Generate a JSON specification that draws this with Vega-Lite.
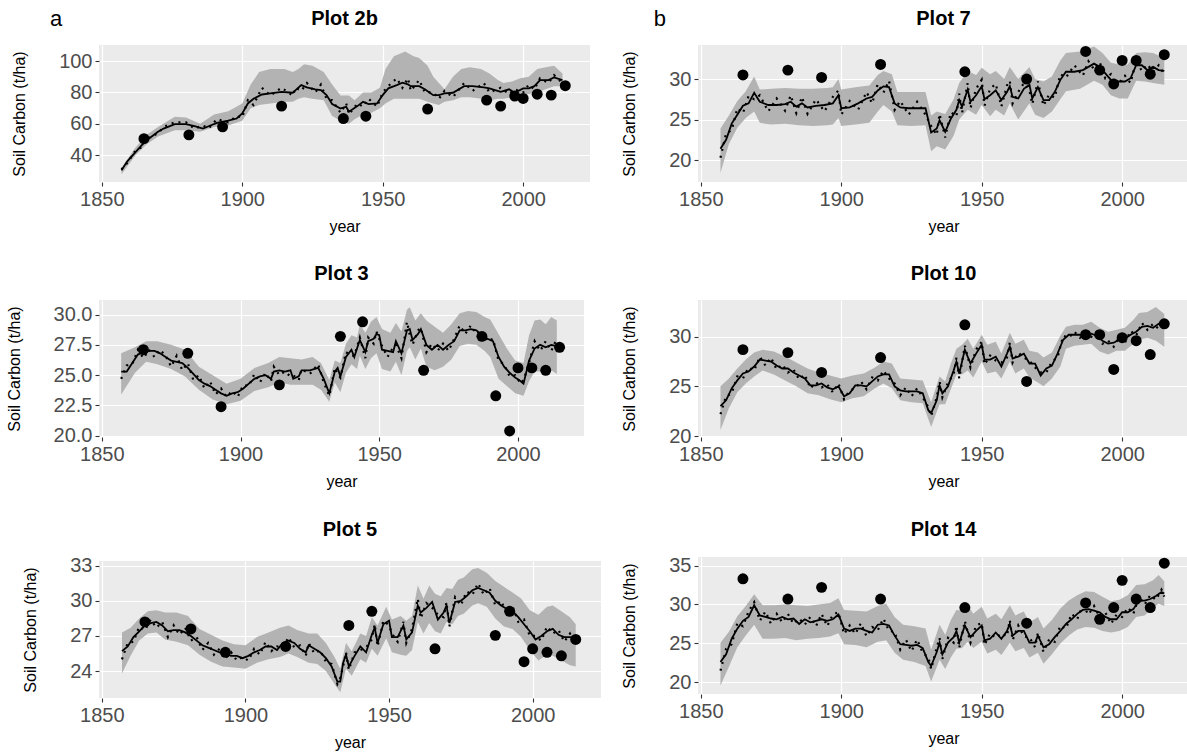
{
"$schema": "https://vega.github.io/schema/vega-lite/v6.json",
"padding": {"left": 6, "top": 8, "right": 4, "bottom": 2},
"background": "white",
"config": {
 "view": {"fill": "#EBEBEB", "stroke": null},
 "font": "Liberation Sans",
 "axis": {"domain": false, "labelOverlap": false, "gridColor": "white", "gridWidth": 1.2, "tickColor": "#333333", "tickSize": 4, "tickWidth": 1.1, "labelColor": "#4D4D4D", "labelFontSize": 20, "labelPadding": 3, "titleFontSize": 16, "titleFontWeight": "normal", "titleColor": "black"},
 "axisX": {"titlePadding": 9},
 "axisY": {"titlePadding": 31},
 "title": {"fontSize": 20, "fontWeight": "bold", "color": "black", "anchor": "middle", "offset": 16}
},
"datasets": {
 "l2b": [{"year":1857,"m":30.4,"d":31},{"year":1859,"m":36,"d":35},{"year":1862,"m":42,"d":43},{"year":1864,"m":46,"d":45},{"year":1866,"m":49.6,"d":50.5},{"year":1870,"m":55,"d":54},{"year":1872,"m":57,"d":58},{"year":1876,"m":59.8,"d":61},{"year":1880,"m":59.8,"d":61},{"year":1883,"m":58.5,"d":57},{"year":1886,"m":57,"d":59},{"year":1888,"m":58.5,"d":57},{"year":1891,"m":60.6,"d":63},{"year":1895,"m":62,"d":61},{"year":1898,"m":63.4,"d":65},{"year":1900,"m":66.6,"d":64},{"year":1902,"m":73,"d":75},{"year":1904,"m":76,"d":72},{"year":1907,"m":78.7,"d":83},{"year":1910,"m":79.4,"d":78},{"year":1914,"m":80.4,"d":83},{"year":1918,"m":79.8,"d":78},{"year":1919,"m":81.5,"d":83},{"year":1921,"m":84.7,"d":81},{"year":1923,"m":83.2,"d":86},{"year":1926,"m":82,"d":80},{"year":1928,"m":81.5,"d":85},{"year":1930,"m":78.3,"d":76},{"year":1932,"m":72.6,"d":75},{"year":1935,"m":69.8,"d":67},{"year":1937,"m":70.9,"d":73},{"year":1938,"m":67.7,"d":66},{"year":1941,"m":71.3,"d":73},{"year":1943,"m":74,"d":71},{"year":1945,"m":72.6,"d":76},{"year":1948,"m":73,"d":71},{"year":1950,"m":78.3,"d":80},{"year":1952,"m":82.6,"d":84},{"year":1955,"m":84.7,"d":89},{"year":1957,"m":86.2,"d":83},{"year":1959,"m":85.1,"d":89},{"year":1960,"m":84,"d":81},{"year":1963,"m":84,"d":88},{"year":1965,"m":82,"d":80},{"year":1968,"m":78.3,"d":80},{"year":1970,"m":78.3,"d":76},{"year":1972,"m":79.4,"d":81},{"year":1975,"m":79.8,"d":77},{"year":1979,"m":84,"d":86},{"year":1982,"m":84,"d":81},{"year":1986,"m":83.2,"d":86},{"year":1988,"m":82.6,"d":80},{"year":1992,"m":80.4,"d":83},{"year":1995,"m":82,"d":79},{"year":1997,"m":79.8,"d":82},{"year":2000,"m":82.6,"d":80},{"year":2002,"m":82.6,"d":85},{"year":2004,"m":84,"d":82},{"year":2006,"m":87.9,"d":89},{"year":2009,"m":87.9,"d":86},{"year":2011,"m":89.6,"d":91},{"year":2014,"m":87.9,"d":86}],
 "b2b": [{"year":1857,"lo":28,"hi":32},{"year":1862,"lo":40,"hi":45},{"year":1866,"lo":47,"hi":53},{"year":1870,"lo":52,"hi":58},{"year":1876,"lo":56,"hi":64.5},{"year":1880,"lo":56,"hi":64},{"year":1885,"lo":55,"hi":60},{"year":1890,"lo":58,"hi":66},{"year":1895,"lo":59,"hi":68},{"year":1900,"lo":62,"hi":73},{"year":1903,"lo":70,"hi":85},{"year":1906,"lo":72,"hi":93},{"year":1910,"lo":73,"hi":95},{"year":1915,"lo":74,"hi":95},{"year":1918,"lo":74,"hi":93},{"year":1920,"lo":76,"hi":95},{"year":1922,"lo":77,"hi":98},{"year":1925,"lo":76,"hi":97},{"year":1929,"lo":75,"hi":93},{"year":1932,"lo":65,"hi":85},{"year":1935,"lo":62,"hi":78},{"year":1938,"lo":60,"hi":78},{"year":1940,"lo":63,"hi":75},{"year":1943,"lo":66,"hi":80},{"year":1946,"lo":67,"hi":80},{"year":1949,"lo":70,"hi":83},{"year":1951,"lo":73,"hi":95},{"year":1954,"lo":76,"hi":103},{"year":1958,"lo":76,"hi":106},{"year":1961,"lo":76,"hi":103},{"year":1963,"lo":76,"hi":102},{"year":1966,"lo":74,"hi":97},{"year":1968,"lo":73,"hi":90},{"year":1970,"lo":72,"hi":86},{"year":1972,"lo":74,"hi":82},{"year":1975,"lo":75,"hi":90},{"year":1978,"lo":77,"hi":95},{"year":1981,"lo":77,"hi":96},{"year":1985,"lo":76,"hi":95},{"year":1988,"lo":75,"hi":92},{"year":1991,"lo":76,"hi":88},{"year":1993,"lo":76,"hi":86},{"year":1996,"lo":77,"hi":87},{"year":1999,"lo":78,"hi":89},{"year":2002,"lo":79,"hi":90},{"year":2005,"lo":80,"hi":95},{"year":2008,"lo":82,"hi":96},{"year":2011,"lo":84,"hi":97},{"year":2014,"lo":84,"hi":92}],
 "o2b": [{"year":1865,"v":50.6},{"year":1881,"v":53},{"year":1893,"v":58.1},{"year":1914,"v":71.3},{"year":1936,"v":63.4},{"year":1944,"v":64.9},{"year":1966,"v":69.4},{"year":1987,"v":75.1},{"year":1992,"v":71.3},{"year":1997,"v":77.7},{"year":2000,"v":76.2},{"year":2005,"v":78.9},{"year":2010,"v":78.3},{"year":2015,"v":84.3}],
 "l7": [{"year":1857,"m":21.4,"d":20.3},{"year":1859,"m":22.5,"d":23.3},{"year":1861,"m":24.5,"d":23.7},{"year":1863,"m":25.6,"d":26.4},{"year":1865,"m":26.7,"d":25.8},{"year":1867,"m":27.0,"d":27.9},{"year":1869,"m":28.3,"d":27.5},{"year":1871,"m":27.2,"d":28.0},{"year":1874,"m":26.8,"d":26.0},{"year":1877,"m":26.8,"d":27.6},{"year":1880,"m":26.9,"d":26.1},{"year":1882,"m":27.2,"d":28.0},{"year":1884,"m":26.6,"d":25.8},{"year":1886,"m":27.0,"d":27.8},{"year":1888,"m":26.5,"d":25.7},{"year":1891,"m":26.7,"d":27.5},{"year":1894,"m":26.8,"d":26.0},{"year":1897,"m":27.0,"d":27.8},{"year":1899,"m":28.0,"d":28.6},{"year":1900,"m":26.4,"d":25.6},{"year":1903,"m":26.5,"d":27.3},{"year":1906,"m":27.0,"d":26.2},{"year":1909,"m":27.6,"d":28.4},{"year":1911,"m":27.8,"d":27.0},{"year":1913,"m":28.6,"d":29.4},{"year":1915,"m":29.1,"d":28.3},{"year":1917,"m":29.0,"d":29.8},{"year":1919,"m":27.0,"d":26.2},{"year":1921,"m":26.5,"d":27.3},{"year":1924,"m":26.4,"d":25.6},{"year":1927,"m":26.4,"d":27.2},{"year":1930,"m":26.4,"d":25.6},{"year":1932,"m":23.4,"d":24.2},{"year":1934,"m":23.9,"d":23.1},{"year":1935,"m":24.9,"d":25.7},{"year":1937,"m":23.5,"d":22.8},{"year":1939,"m":25.1,"d":25.9},{"year":1941,"m":26.2,"d":25.4},{"year":1942,"m":27.4,"d":28.2},{"year":1943,"m":26.6,"d":25.8},{"year":1945,"m":28.7,"d":29.5},{"year":1946,"m":27.2,"d":26.4},{"year":1948,"m":28.0,"d":28.8},{"year":1950,"m":29.1,"d":29.9},{"year":1951,"m":27.5,"d":26.7},{"year":1953,"m":28.0,"d":28.8},{"year":1955,"m":28.6,"d":29.4},{"year":1957,"m":27.4,"d":26.6},{"year":1959,"m":28.4,"d":29.2},{"year":1960,"m":29.1,"d":29.8},{"year":1961,"m":27.8,"d":27.0},{"year":1963,"m":27.6,"d":28.4},{"year":1965,"m":28.8,"d":29.5},{"year":1967,"m":29.3,"d":28.6},{"year":1968,"m":27.6,"d":26.9},{"year":1970,"m":29.0,"d":29.7},{"year":1972,"m":27.4,"d":26.7},{"year":1974,"m":27.4,"d":28.1},{"year":1976,"m":28.4,"d":27.7},{"year":1978,"m":29.9,"d":30.6},{"year":1980,"m":30.9,"d":30.2},{"year":1983,"m":30.9,"d":31.7},{"year":1986,"m":31.1,"d":30.4},{"year":1988,"m":31.5,"d":32.2},{"year":1990,"m":31.9,"d":31.2},{"year":1992,"m":31.5,"d":32.1},{"year":1994,"m":30.7,"d":30.1},{"year":1996,"m":29.9,"d":30.6},{"year":1998,"m":29.7,"d":29.1},{"year":2001,"m":29.7,"d":30.4},{"year":2003,"m":30.1,"d":29.5},{"year":2005,"m":31.7,"d":32.3},{"year":2007,"m":31.7,"d":31.0},{"year":2009,"m":31.1,"d":31.8},{"year":2011,"m":31.5,"d":30.9},{"year":2013,"m":31.1,"d":31.7},{"year":2015,"m":31.0,"d":30.6}],
 "b7": [{"year":1857,"lo":18.4,"hi":23.9},{"year":1860,"lo":22,"hi":25.5},{"year":1863,"lo":24,"hi":27.3},{"year":1866,"lo":25.2,"hi":28.5},{"year":1869,"lo":26,"hi":30.3},{"year":1871,"lo":24.6,"hi":28.7},{"year":1875,"lo":24.4,"hi":28.8},{"year":1880,"lo":24.5,"hi":28.9},{"year":1885,"lo":24.3,"hi":28.8},{"year":1890,"lo":24.2,"hi":28.8},{"year":1895,"lo":24.3,"hi":28.9},{"year":1897,"lo":24.4,"hi":29},{"year":1899,"lo":25.2,"hi":30},{"year":1900,"lo":24.2,"hi":28.7},{"year":1905,"lo":24.4,"hi":29},{"year":1910,"lo":24.6,"hi":29.2},{"year":1913,"lo":26,"hi":30.5},{"year":1915,"lo":26.8,"hi":31},{"year":1918,"lo":26,"hi":30.6},{"year":1920,"lo":24.3,"hi":28.4},{"year":1925,"lo":24.2,"hi":28.4},{"year":1930,"lo":24.3,"hi":28.4},{"year":1932,"lo":21.1,"hi":25.5},{"year":1934,"lo":21.7,"hi":26},{"year":1937,"lo":21.3,"hi":25.7},{"year":1940,"lo":23,"hi":27.5},{"year":1942,"lo":25,"hi":29.5},{"year":1945,"lo":26.2,"hi":31},{"year":1948,"lo":25.6,"hi":30.5},{"year":1950,"lo":26.8,"hi":31.4},{"year":1953,"lo":25.4,"hi":30.6},{"year":1955,"lo":26.2,"hi":31},{"year":1958,"lo":25.5,"hi":30},{"year":1960,"lo":27,"hi":31.5},{"year":1963,"lo":25,"hi":30},{"year":1967,"lo":27,"hi":31.5},{"year":1969,"lo":25.6,"hi":30},{"year":1972,"lo":25.2,"hi":29.7},{"year":1975,"lo":26,"hi":30.3},{"year":1978,"lo":27.5,"hi":32.3},{"year":1980,"lo":28.5,"hi":33.2},{"year":1985,"lo":28.8,"hi":33.4},{"year":1990,"lo":29.8,"hi":34},{"year":1993,"lo":29.3,"hi":33.2},{"year":1996,"lo":28,"hi":32},{"year":1999,"lo":27.6,"hi":31.8},{"year":2002,"lo":27.6,"hi":31.8},{"year":2005,"lo":29.8,"hi":33.2},{"year":2008,"lo":29.7,"hi":33.3},{"year":2011,"lo":29.5,"hi":33.2},{"year":2015,"lo":29.3,"hi":32.6}],
 "o7": [{"year":1865,"v":30.5},{"year":1881,"v":31.1},{"year":1893,"v":30.2},{"year":1914,"v":31.8},{"year":1944,"v":30.9},{"year":1966,"v":30.0},{"year":1987,"v":33.4},{"year":1992,"v":31.1},{"year":1997,"v":29.4},{"year":2000,"v":32.3},{"year":2005,"v":32.3},{"year":2010,"v":30.6},{"year":2015,"v":33.0}],
 "l3": [{"year":1857,"m":25.3,"d":24.7},{"year":1859,"m":25.3,"d":25.8},{"year":1861,"m":26.0,"d":25.9},{"year":1863,"m":26.7,"d":27.1},{"year":1865,"m":26.9,"d":26.4},{"year":1867,"m":27.0,"d":27.1},{"year":1869,"m":27.0,"d":26.5},{"year":1871,"m":26.8,"d":27.1},{"year":1873,"m":26.5,"d":26.6},{"year":1875,"m":26.2,"d":25.7},{"year":1877,"m":26.1,"d":26.6},{"year":1879,"m":26.0,"d":25.4},{"year":1881,"m":25.6,"d":26.0},{"year":1883,"m":25.1,"d":24.6},{"year":1885,"m":24.6,"d":25.0},{"year":1887,"m":24.3,"d":23.9},{"year":1889,"m":24.1,"d":24.5},{"year":1891,"m":23.8,"d":23.4},{"year":1893,"m":23.5,"d":23.9},{"year":1895,"m":23.3,"d":23.2},{"year":1897,"m":23.5,"d":23.7},{"year":1899,"m":23.6,"d":23.2},{"year":1901,"m":23.9,"d":24.2},{"year":1903,"m":24.3,"d":24.1},{"year":1905,"m":24.7,"d":25.1},{"year":1907,"m":24.9,"d":24.4},{"year":1909,"m":25.0,"d":25.2},{"year":1911,"m":24.7,"d":24.5},{"year":1912,"m":25.3,"d":25.7},{"year":1914,"m":25.4,"d":25.0},{"year":1916,"m":25.3,"d":25.3},{"year":1918,"m":25.4,"d":24.9},{"year":1919,"m":24.7,"d":25.0},{"year":1921,"m":24.9,"d":24.6},{"year":1922,"m":25.4,"d":25.5},{"year":1925,"m":25.4,"d":25.1},{"year":1928,"m":25.6,"d":25.9},{"year":1930,"m":24.7,"d":24.4},{"year":1932,"m":23.5,"d":23.3},{"year":1934,"m":25.3,"d":25.6},{"year":1935,"m":25.6,"d":25.1},{"year":1936,"m":24.9,"d":24.8},{"year":1938,"m":26.5,"d":26.9},{"year":1940,"m":27.1,"d":26.6},{"year":1941,"m":26.5,"d":26.6},{"year":1943,"m":27.9,"d":28.1},{"year":1945,"m":26.9,"d":26.4},{"year":1946,"m":27.8,"d":28.1},{"year":1948,"m":28.0,"d":27.6},{"year":1949,"m":28.4,"d":28.6},{"year":1950,"m":28.3,"d":28.0},{"year":1951,"m":27.1,"d":27.4},{"year":1953,"m":27.0,"d":26.5},{"year":1955,"m":26.9,"d":27.3},{"year":1956,"m":27.8,"d":27.5},{"year":1958,"m":26.8,"d":26.4},{"year":1960,"m":28.7,"d":29.4},{"year":1961,"m":28.8,"d":28.3},{"year":1962,"m":27.9,"d":27.5},{"year":1964,"m":28.4,"d":28.7},{"year":1965,"m":28.8,"d":28.9},{"year":1967,"m":27.5,"d":26.9},{"year":1969,"m":27.1,"d":27.6},{"year":1971,"m":27.5,"d":27.0},{"year":1973,"m":27.1,"d":27.6},{"year":1975,"m":27.5,"d":27.0},{"year":1977,"m":27.8,"d":28.0},{"year":1979,"m":28.7,"d":29.1},{"year":1981,"m":28.7,"d":28.4},{"year":1983,"m":28.8,"d":29.1},{"year":1985,"m":28.7,"d":28.4},{"year":1987,"m":28.3,"d":28.7},{"year":1989,"m":28.0,"d":27.8},{"year":1991,"m":27.8,"d":28.0},{"year":1993,"m":26.5,"d":26.2},{"year":1995,"m":25.7,"d":25.9},{"year":1997,"m":25.2,"d":24.9},{"year":1999,"m":24.8,"d":25.0},{"year":2001,"m":24.5,"d":24.3},{"year":2002,"m":24.3,"d":24.6},{"year":2004,"m":26.2,"d":26.0},{"year":2006,"m":27.2,"d":27.8},{"year":2008,"m":27.5,"d":27.0},{"year":2010,"m":27.3,"d":27.8},{"year":2012,"m":27.5,"d":27.0},{"year":2014,"m":27.4,"d":28.0}],
 "b3": [{"year":1857,"lo":23.4,"hi":26.8},{"year":1862,"lo":25.2,"hi":27.3},{"year":1866,"lo":26.1,"hi":27.8},{"year":1870,"lo":25.9,"hi":27.8},{"year":1875,"lo":25.5,"hi":27.5},{"year":1880,"lo":24.9,"hi":27.1},{"year":1885,"lo":23.8,"hi":25.7},{"year":1890,"lo":23.0,"hi":25.0},{"year":1895,"lo":22.6,"hi":24.3},{"year":1900,"lo":22.9,"hi":24.7},{"year":1905,"lo":23.7,"hi":25.6},{"year":1910,"lo":24.0,"hi":26.0},{"year":1914,"lo":24.4,"hi":26.5},{"year":1918,"lo":24.2,"hi":26.4},{"year":1922,"lo":24.2,"hi":26.3},{"year":1926,"lo":24.2,"hi":26.5},{"year":1929,"lo":23.8,"hi":26.0},{"year":1932,"lo":22.8,"hi":24.6},{"year":1934,"lo":24.4,"hi":26.2},{"year":1936,"lo":23.6,"hi":26.0},{"year":1938,"lo":25.2,"hi":27.6},{"year":1940,"lo":25.9,"hi":28.3},{"year":1942,"lo":25.5,"hi":28.1},{"year":1943,"lo":26.6,"hi":29.2},{"year":1945,"lo":25.5,"hi":28.5},{"year":1947,"lo":26.4,"hi":29.4},{"year":1949,"lo":26.8,"hi":29.8},{"year":1951,"lo":25.5,"hi":28.8},{"year":1954,"lo":25.3,"hi":28.5},{"year":1956,"lo":26.1,"hi":29.3},{"year":1958,"lo":25.0,"hi":28.6},{"year":1960,"lo":27.0,"hi":30.4},{"year":1961,"lo":27.3,"hi":30.6},{"year":1963,"lo":26.3,"hi":29.5},{"year":1965,"lo":27.2,"hi":30.1},{"year":1967,"lo":25.7,"hi":29.5},{"year":1970,"lo":25.4,"hi":29.0},{"year":1973,"lo":25.7,"hi":28.5},{"year":1976,"lo":26.3,"hi":29.2},{"year":1979,"lo":27.4,"hi":30.1},{"year":1982,"lo":27.6,"hi":30.3},{"year":1985,"lo":27.5,"hi":30.2},{"year":1988,"lo":27.0,"hi":29.8},{"year":1990,"lo":26.5,"hi":29.6},{"year":1993,"lo":24.7,"hi":28.4},{"year":1996,"lo":24.1,"hi":27.2},{"year":1999,"lo":23.5,"hi":26.2},{"year":2002,"lo":23.3,"hi":26.0},{"year":2004,"lo":24.5,"hi":28.3},{"year":2006,"lo":25.3,"hi":29.5},{"year":2008,"lo":25.3,"hi":29.6},{"year":2010,"lo":25.3,"hi":29.2},{"year":2012,"lo":25.4,"hi":29.8},{"year":2014,"lo":25.1,"hi":29.5}],
 "o3": [{"year":1865,"v":27.1},{"year":1881,"v":26.8},{"year":1893,"v":22.4},{"year":1914,"v":24.2},{"year":1936,"v":28.2},{"year":1944,"v":29.4},{"year":1966,"v":25.4},{"year":1987,"v":28.2},{"year":1992,"v":23.3},{"year":1997,"v":20.4},{"year":2000,"v":25.6},{"year":2005,"v":25.6},{"year":2010,"v":25.4},{"year":2015,"v":27.3}],
 "l10": [{"year":1857,"m":23.0,"d":22.2},{"year":1859,"m":23.6,"d":24.0},{"year":1861,"m":24.8,"d":24.3},{"year":1863,"m":25.6,"d":26.0},{"year":1865,"m":26.3,"d":25.8},{"year":1867,"m":26.5,"d":26.9},{"year":1869,"m":27.0,"d":26.6},{"year":1871,"m":27.7,"d":28.0},{"year":1873,"m":27.6,"d":27.1},{"year":1875,"m":27.5,"d":27.9},{"year":1877,"m":27.1,"d":26.7},{"year":1879,"m":26.8,"d":27.2},{"year":1881,"m":26.8,"d":26.4},{"year":1883,"m":26.4,"d":26.7},{"year":1885,"m":26.1,"d":25.7},{"year":1887,"m":25.8,"d":26.2},{"year":1889,"m":25.1,"d":24.8},{"year":1891,"m":25.1,"d":25.4},{"year":1893,"m":25.3,"d":24.9},{"year":1895,"m":24.9,"d":25.2},{"year":1897,"m":24.7,"d":24.4},{"year":1899,"m":25.0,"d":25.3},{"year":1901,"m":24.0,"d":23.7},{"year":1903,"m":24.3,"d":24.6},{"year":1905,"m":25.1,"d":24.8},{"year":1907,"m":25.1,"d":25.5},{"year":1909,"m":25.0,"d":24.7},{"year":1911,"m":25.5,"d":25.9},{"year":1913,"m":26.0,"d":25.6},{"year":1915,"m":26.2,"d":26.6},{"year":1917,"m":26.2,"d":25.8},{"year":1919,"m":25.0,"d":25.3},{"year":1921,"m":24.6,"d":24.1},{"year":1923,"m":24.5,"d":24.9},{"year":1925,"m":24.5,"d":24.0},{"year":1927,"m":24.5,"d":24.8},{"year":1929,"m":24.3,"d":23.9},{"year":1931,"m":22.6,"d":22.9},{"year":1932,"m":22.3,"d":22.0},{"year":1934,"m":23.6,"d":23.9},{"year":1935,"m":25.1,"d":25.5},{"year":1936,"m":24.3,"d":23.9},{"year":1938,"m":25.0,"d":25.4},{"year":1940,"m":26.6,"d":26.2},{"year":1941,"m":27.5,"d":27.9},{"year":1942,"m":26.3,"d":25.8},{"year":1944,"m":28.7,"d":29.1},{"year":1946,"m":27.3,"d":26.9},{"year":1948,"m":28.3,"d":28.7},{"year":1950,"m":29.2,"d":29.5},{"year":1951,"m":27.7,"d":27.2},{"year":1953,"m":27.7,"d":28.1},{"year":1955,"m":28.0,"d":27.6},{"year":1957,"m":27.0,"d":27.4},{"year":1959,"m":28.3,"d":27.9},{"year":1960,"m":29.0,"d":29.4},{"year":1961,"m":27.8,"d":27.4},{"year":1963,"m":28.0,"d":28.4},{"year":1965,"m":28.3,"d":27.9},{"year":1967,"m":27.3,"d":27.6},{"year":1969,"m":27.3,"d":26.9},{"year":1971,"m":26.1,"d":26.4},{"year":1973,"m":26.8,"d":26.4},{"year":1975,"m":27.1,"d":27.5},{"year":1977,"m":28.3,"d":27.9},{"year":1979,"m":29.7,"d":30.1},{"year":1981,"m":30.2,"d":29.9},{"year":1983,"m":30.2,"d":30.5},{"year":1985,"m":30.2,"d":29.9},{"year":1987,"m":30.0,"d":30.4},{"year":1989,"m":30.3,"d":30.0},{"year":1991,"m":30.1,"d":30.5},{"year":1993,"m":29.6,"d":29.3},{"year":1995,"m":29.3,"d":29.6},{"year":1997,"m":29.4,"d":29.0},{"year":1999,"m":29.7,"d":30.0},{"year":2001,"m":29.8,"d":29.4},{"year":2003,"m":30.2,"d":30.6},{"year":2005,"m":30.5,"d":30.1},{"year":2007,"m":31.0,"d":31.4},{"year":2009,"m":31.1,"d":30.7},{"year":2011,"m":30.9,"d":31.3},{"year":2013,"m":31.3,"d":30.8},{"year":2015,"m":30.9,"d":31.3}],
 "b10": [{"year":1857,"lo":20.6,"hi":25.0},{"year":1860,"lo":22.8,"hi":25.8},{"year":1863,"lo":24.4,"hi":26.8},{"year":1866,"lo":25.3,"hi":27.7},{"year":1869,"lo":26.0,"hi":28.4},{"year":1872,"lo":26.6,"hi":28.7},{"year":1876,"lo":26.2,"hi":28.5},{"year":1880,"lo":25.6,"hi":28.0},{"year":1884,"lo":25.0,"hi":27.4},{"year":1888,"lo":24.3,"hi":26.8},{"year":1892,"lo":24.1,"hi":26.4},{"year":1896,"lo":23.7,"hi":26.1},{"year":1900,"lo":23.4,"hi":25.8},{"year":1904,"lo":23.8,"hi":26.1},{"year":1908,"lo":24.0,"hi":26.3},{"year":1912,"lo":24.8,"hi":26.9},{"year":1915,"lo":25.3,"hi":27.5},{"year":1918,"lo":24.8,"hi":27.3},{"year":1921,"lo":23.6,"hi":25.8},{"year":1925,"lo":23.4,"hi":25.7},{"year":1929,"lo":23.3,"hi":25.6},{"year":1932,"lo":20.9,"hi":23.4},{"year":1935,"lo":23.2,"hi":26.0},{"year":1937,"lo":23.2,"hi":25.5},{"year":1939,"lo":24.7,"hi":27.3},{"year":1941,"lo":26.2,"hi":28.8},{"year":1943,"lo":26.2,"hi":29.2},{"year":1945,"lo":26.6,"hi":29.8},{"year":1947,"lo":25.9,"hi":28.8},{"year":1950,"lo":27.5,"hi":30.2},{"year":1952,"lo":26.3,"hi":29.2},{"year":1955,"lo":26.5,"hi":29.5},{"year":1957,"lo":25.8,"hi":28.3},{"year":1960,"lo":27.5,"hi":30.4},{"year":1962,"lo":26.3,"hi":29.3},{"year":1965,"lo":26.8,"hi":29.7},{"year":1967,"lo":25.9,"hi":28.6},{"year":1970,"lo":25.4,"hi":28.4},{"year":1972,"lo":25.0,"hi":27.9},{"year":1975,"lo":25.8,"hi":28.4},{"year":1978,"lo":27.0,"hi":30.1},{"year":1980,"lo":28.8,"hi":31.0},{"year":1983,"lo":29.1,"hi":31.2},{"year":1986,"lo":29.2,"hi":31.2},{"year":1989,"lo":29.3,"hi":31.5},{"year":1992,"lo":28.5,"hi":30.9},{"year":1995,"lo":28.2,"hi":30.5},{"year":1998,"lo":28.6,"hi":30.7},{"year":2001,"lo":28.6,"hi":30.9},{"year":2004,"lo":29.3,"hi":31.7},{"year":2006,"lo":29.7,"hi":32.4},{"year":2009,"lo":29.9,"hi":32.5},{"year":2012,"lo":29.6,"hi":33.0},{"year":2015,"lo":29.0,"hi":32.3}],
 "o10": [{"year":1865,"v":28.7},{"year":1881,"v":28.4},{"year":1893,"v":26.4},{"year":1914,"v":27.9},{"year":1944,"v":31.2},{"year":1966,"v":25.5},{"year":1987,"v":30.2},{"year":1992,"v":30.2},{"year":1997,"v":26.7},{"year":2000,"v":29.9},{"year":2005,"v":29.6},{"year":2010,"v":28.2},{"year":2015,"v":31.3}],
 "l5": [{"year":1857,"m":25.7,"d":25.0},{"year":1859,"m":26.1,"d":26.4},{"year":1861,"m":26.9,"d":26.5},{"year":1863,"m":27.4,"d":27.8},{"year":1865,"m":27.9,"d":27.5},{"year":1867,"m":28.1,"d":28.4},{"year":1869,"m":28.2,"d":27.7},{"year":1871,"m":27.9,"d":28.2},{"year":1873,"m":27.4,"d":26.9},{"year":1875,"m":27.5,"d":27.9},{"year":1877,"m":27.5,"d":27.1},{"year":1879,"m":27.3,"d":27.7},{"year":1881,"m":27.0,"d":26.6},{"year":1883,"m":26.6,"d":26.9},{"year":1885,"m":26.2,"d":25.8},{"year":1887,"m":26.0,"d":26.4},{"year":1889,"m":25.8,"d":25.4},{"year":1891,"m":25.6,"d":25.9},{"year":1893,"m":25.5,"d":25.1},{"year":1895,"m":25.3,"d":25.6},{"year":1897,"m":25.3,"d":24.9},{"year":1899,"m":25.1,"d":25.2},{"year":1901,"m":25.3,"d":24.9},{"year":1903,"m":25.6,"d":25.9},{"year":1905,"m":25.8,"d":25.4},{"year":1907,"m":26.1,"d":26.5},{"year":1909,"m":26.1,"d":25.7},{"year":1911,"m":25.8,"d":26.1},{"year":1913,"m":26.4,"d":26.0},{"year":1915,"m":26.6,"d":26.9},{"year":1917,"m":26.4,"d":26.0},{"year":1919,"m":25.9,"d":26.2},{"year":1921,"m":25.6,"d":25.3},{"year":1922,"m":26.2,"d":26.4},{"year":1924,"m":25.9,"d":25.5},{"year":1926,"m":25.6,"d":25.8},{"year":1928,"m":25.1,"d":24.8},{"year":1930,"m":24.4,"d":24.6},{"year":1932,"m":23.1,"d":22.9},{"year":1933,"m":23.1,"d":23.4},{"year":1934,"m":24.7,"d":24.4},{"year":1935,"m":25.4,"d":25.6},{"year":1936,"m":24.4,"d":24.1},{"year":1938,"m":25.3,"d":25.6},{"year":1940,"m":26.1,"d":25.8},{"year":1942,"m":25.6,"d":26.0},{"year":1944,"m":27.1,"d":26.7},{"year":1945,"m":27.7,"d":28.0},{"year":1946,"m":26.4,"d":26.1},{"year":1948,"m":28.0,"d":28.3},{"year":1950,"m":28.3,"d":27.9},{"year":1951,"m":26.9,"d":27.2},{"year":1953,"m":26.9,"d":26.5},{"year":1955,"m":27.9,"d":28.2},{"year":1956,"m":26.7,"d":26.4},{"year":1958,"m":27.3,"d":27.6},{"year":1960,"m":29.6,"d":30.2},{"year":1961,"m":29.0,"d":28.5},{"year":1963,"m":29.4,"d":29.8},{"year":1965,"m":29.9,"d":29.4},{"year":1967,"m":28.4,"d":28.8},{"year":1969,"m":29.0,"d":28.6},{"year":1970,"m":29.6,"d":29.9},{"year":1971,"m":28.1,"d":27.8},{"year":1973,"m":29.9,"d":30.3},{"year":1975,"m":30.0,"d":29.6},{"year":1977,"m":30.4,"d":30.8},{"year":1979,"m":30.9,"d":30.5},{"year":1981,"m":31.1,"d":31.5},{"year":1983,"m":30.9,"d":30.5},{"year":1985,"m":30.7,"d":31.1},{"year":1987,"m":30.0,"d":29.6},{"year":1989,"m":29.6,"d":30.0},{"year":1991,"m":29.3,"d":28.9},{"year":1993,"m":29.1,"d":29.5},{"year":1995,"m":28.6,"d":28.2},{"year":1997,"m":28.0,"d":28.4},{"year":1999,"m":27.4,"d":27.0},{"year":2001,"m":26.7,"d":27.0},{"year":2003,"m":27.0,"d":26.6},{"year":2005,"m":27.4,"d":27.8},{"year":2007,"m":27.6,"d":27.2},{"year":2009,"m":27.1,"d":27.5},{"year":2011,"m":26.9,"d":26.5},{"year":2013,"m":26.9,"d":27.2},{"year":2015,"m":26.7,"d":26.3}],
 "b5": [{"year":1857,"lo":23.8,"hi":27.3},{"year":1860,"lo":25.3,"hi":27.7},{"year":1863,"lo":26.6,"hi":28.5},{"year":1866,"lo":27.2,"hi":29.1},{"year":1869,"lo":27.3,"hi":29.2},{"year":1872,"lo":26.7,"hi":29.0},{"year":1876,"lo":26.5,"hi":29.0},{"year":1880,"lo":26.2,"hi":28.7},{"year":1884,"lo":25.4,"hi":27.6},{"year":1888,"lo":24.8,"hi":27.1},{"year":1892,"lo":24.4,"hi":26.6},{"year":1896,"lo":24.3,"hi":26.3},{"year":1900,"lo":24.2,"hi":26.2},{"year":1904,"lo":24.7,"hi":26.9},{"year":1908,"lo":25.0,"hi":27.3},{"year":1912,"lo":25.2,"hi":27.7},{"year":1915,"lo":25.5,"hi":27.9},{"year":1918,"lo":25.2,"hi":27.5},{"year":1922,"lo":24.7,"hi":27.2},{"year":1925,"lo":24.6,"hi":27.2},{"year":1928,"lo":24.0,"hi":26.4},{"year":1931,"lo":22.9,"hi":25.2},{"year":1933,"lo":22.2,"hi":24.2},{"year":1935,"lo":24.2,"hi":26.4},{"year":1937,"lo":23.6,"hi":25.7},{"year":1940,"lo":25.0,"hi":27.2},{"year":1942,"lo":24.7,"hi":27.0},{"year":1944,"lo":25.9,"hi":28.6},{"year":1946,"lo":25.3,"hi":27.9},{"year":1949,"lo":26.8,"hi":29.5},{"year":1951,"lo":25.6,"hi":28.4},{"year":1954,"lo":25.4,"hi":28.7},{"year":1956,"lo":25.3,"hi":28.3},{"year":1958,"lo":25.8,"hi":28.7},{"year":1960,"lo":28.2,"hi":31.3},{"year":1962,"lo":27.2,"hi":30.2},{"year":1964,"lo":28.1,"hi":31.3},{"year":1966,"lo":27.4,"hi":30.6},{"year":1968,"lo":27.2,"hi":30.4},{"year":1970,"lo":28.2,"hi":31.1},{"year":1972,"lo":28.0,"hi":31.0},{"year":1974,"lo":28.7,"hi":31.8},{"year":1976,"lo":28.9,"hi":32.0},{"year":1979,"lo":29.6,"hi":32.7},{"year":1981,"lo":29.8,"hi":32.8},{"year":1984,"lo":29.5,"hi":32.4},{"year":1987,"lo":28.5,"hi":31.7},{"year":1990,"lo":27.8,"hi":31.2},{"year":1993,"lo":27.6,"hi":30.7},{"year":1996,"lo":26.9,"hi":30.2},{"year":1999,"lo":25.8,"hi":29.2},{"year":2002,"lo":24.9,"hi":28.8},{"year":2005,"lo":25.4,"hi":29.5},{"year":2007,"lo":25.3,"hi":29.6},{"year":2010,"lo":24.9,"hi":29.1},{"year":2013,"lo":24.5,"hi":28.6},{"year":2015,"lo":24.4,"hi":28.0}],
 "o5": [{"year":1865,"v":28.2},{"year":1881,"v":27.6},{"year":1893,"v":25.6},{"year":1914,"v":26.1},{"year":1936,"v":27.9},{"year":1944,"v":29.1},{"year":1966,"v":25.9},{"year":1987,"v":27.05},{"year":1992,"v":29.1},{"year":1997,"v":24.8},{"year":2000,"v":25.9},{"year":2005,"v":25.6},{"year":2010,"v":25.3},{"year":2015,"v":26.7}],
 "l14": [{"year":1857,"m":22.6,"d":21.5},{"year":1859,"m":23.6,"d":24.3},{"year":1861,"m":25.6,"d":24.9},{"year":1863,"m":26.9,"d":27.6},{"year":1865,"m":27.9,"d":27.2},{"year":1867,"m":28.4,"d":29.1},{"year":1869,"m":29.9,"d":30.3},{"year":1871,"m":28.6,"d":27.9},{"year":1873,"m":28.4,"d":29.1},{"year":1875,"m":28.2,"d":27.5},{"year":1877,"m":28.1,"d":28.8},{"year":1879,"m":28.4,"d":27.7},{"year":1881,"m":28.1,"d":28.8},{"year":1883,"m":28.2,"d":27.5},{"year":1885,"m":27.5,"d":28.2},{"year":1887,"m":28.1,"d":27.4},{"year":1889,"m":27.7,"d":28.4},{"year":1891,"m":27.9,"d":27.2},{"year":1893,"m":28.1,"d":28.8},{"year":1895,"m":27.9,"d":27.2},{"year":1897,"m":28.1,"d":28.7},{"year":1899,"m":28.7,"d":29.0},{"year":1901,"m":26.9,"d":26.2},{"year":1903,"m":26.6,"d":27.3},{"year":1905,"m":26.9,"d":26.2},{"year":1907,"m":26.9,"d":27.6},{"year":1909,"m":26.6,"d":25.9},{"year":1911,"m":26.4,"d":27.1},{"year":1913,"m":27.4,"d":26.7},{"year":1915,"m":27.5,"d":28.2},{"year":1917,"m":27.3,"d":26.6},{"year":1919,"m":26.0,"d":26.5},{"year":1921,"m":24.9,"d":24.2},{"year":1923,"m":24.8,"d":25.5},{"year":1925,"m":24.7,"d":24.0},{"year":1927,"m":24.8,"d":25.5},{"year":1929,"m":24.4,"d":23.8},{"year":1931,"m":22.6,"d":23.2},{"year":1932,"m":22.1,"d":21.7},{"year":1934,"m":23.9,"d":24.5},{"year":1935,"m":25.1,"d":25.7},{"year":1936,"m":23.6,"d":23.0},{"year":1938,"m":25.1,"d":25.7},{"year":1940,"m":25.8,"d":25.1},{"year":1941,"m":26.6,"d":27.3},{"year":1942,"m":25.1,"d":24.4},{"year":1944,"m":27.3,"d":27.9},{"year":1946,"m":25.8,"d":25.1},{"year":1948,"m":26.6,"d":27.3},{"year":1950,"m":27.3,"d":27.6},{"year":1951,"m":25.4,"d":24.8},{"year":1953,"m":25.6,"d":26.3},{"year":1955,"m":26.4,"d":25.7},{"year":1957,"m":25.6,"d":26.3},{"year":1959,"m":26.6,"d":25.9},{"year":1960,"m":27.5,"d":28.0},{"year":1961,"m":26.0,"d":25.4},{"year":1963,"m":26.6,"d":27.3},{"year":1965,"m":26.6,"d":25.9},{"year":1967,"m":25.1,"d":25.8},{"year":1969,"m":25.1,"d":24.5},{"year":1970,"m":26.0,"d":26.4},{"year":1972,"m":24.5,"d":23.9},{"year":1974,"m":24.9,"d":25.5},{"year":1976,"m":25.8,"d":25.2},{"year":1978,"m":26.6,"d":27.3},{"year":1980,"m":27.5,"d":26.9},{"year":1982,"m":28.1,"d":28.8},{"year":1984,"m":28.8,"d":28.1},{"year":1986,"m":29.3,"d":29.9},{"year":1988,"m":29.4,"d":28.7},{"year":1990,"m":29.2,"d":29.8},{"year":1992,"m":29.0,"d":28.4},{"year":1994,"m":28.4,"d":29.0},{"year":1996,"m":28.1,"d":27.5},{"year":1998,"m":28.1,"d":28.7},{"year":2000,"m":29.0,"d":28.4},{"year":2002,"m":29.0,"d":29.6},{"year":2004,"m":29.4,"d":28.8},{"year":2006,"m":30.5,"d":31.0},{"year":2008,"m":30.5,"d":30.0},{"year":2010,"m":30.7,"d":31.2},{"year":2012,"m":31.1,"d":30.6},{"year":2014,"m":31.6,"d":31.9},{"year":2015,"m":31.4,"d":31.0}],
 "b14": [{"year":1857,"lo":19.6,"hi":25.1},{"year":1860,"lo":22.0,"hi":26.5},{"year":1863,"lo":24.5,"hi":28.5},{"year":1866,"lo":26.0,"hi":29.8},{"year":1869,"lo":27.4,"hi":31.3},{"year":1872,"lo":25.6,"hi":29.9},{"year":1876,"lo":25.6,"hi":29.9},{"year":1880,"lo":25.7,"hi":30.0},{"year":1884,"lo":25.4,"hi":29.9},{"year":1888,"lo":25.6,"hi":29.8},{"year":1892,"lo":25.7,"hi":30.0},{"year":1896,"lo":25.9,"hi":30.2},{"year":1899,"lo":26.3,"hi":30.8},{"year":1901,"lo":24.9,"hi":29.3},{"year":1905,"lo":24.8,"hi":29.2},{"year":1909,"lo":24.5,"hi":29.1},{"year":1913,"lo":25.2,"hi":29.8},{"year":1916,"lo":25.4,"hi":30.1},{"year":1919,"lo":23.8,"hi":28.4},{"year":1922,"lo":22.9,"hi":27.4},{"year":1926,"lo":22.6,"hi":27.2},{"year":1930,"lo":22.1,"hi":26.9},{"year":1932,"lo":20.1,"hi":24.2},{"year":1935,"lo":22.9,"hi":27.4},{"year":1937,"lo":21.7,"hi":26.1},{"year":1939,"lo":23.2,"hi":28.0},{"year":1941,"lo":24.3,"hi":29.3},{"year":1943,"lo":24.4,"hi":29.2},{"year":1945,"lo":25.2,"hi":29.9},{"year":1947,"lo":24.4,"hi":28.8},{"year":1950,"lo":25.2,"hi":29.7},{"year":1952,"lo":23.7,"hi":28.2},{"year":1955,"lo":24.2,"hi":28.8},{"year":1957,"lo":23.5,"hi":28.1},{"year":1960,"lo":25.1,"hi":29.9},{"year":1962,"lo":24.0,"hi":28.6},{"year":1965,"lo":24.4,"hi":29.1},{"year":1967,"lo":23.2,"hi":27.7},{"year":1970,"lo":23.8,"hi":28.4},{"year":1972,"lo":22.4,"hi":26.9},{"year":1975,"lo":23.6,"hi":28.0},{"year":1978,"lo":25.0,"hi":29.5},{"year":1981,"lo":26.0,"hi":30.5},{"year":1984,"lo":26.8,"hi":31.2},{"year":1987,"lo":27.1,"hi":31.7},{"year":1990,"lo":27.0,"hi":31.6},{"year":1993,"lo":26.6,"hi":31.0},{"year":1996,"lo":26.4,"hi":30.4},{"year":1999,"lo":26.6,"hi":30.6},{"year":2002,"lo":27.1,"hi":31.2},{"year":2005,"lo":28.4,"hi":32.5},{"year":2008,"lo":28.6,"hi":32.6},{"year":2011,"lo":29.6,"hi":33.1},{"year":2013,"lo":30.1,"hi":33.8},{"year":2015,"lo":29.8,"hi":33.0}],
 "o14": [{"year":1865,"v":33.3},{"year":1881,"v":30.7},{"year":1893,"v":32.2},{"year":1914,"v":30.7},{"year":1944,"v":29.6},{"year":1966,"v":27.6},{"year":1987,"v":30.2},{"year":1992,"v":28.1},{"year":1997,"v":29.6},{"year":2000,"v":33.1},{"year":2005,"v":30.7},{"year":2010,"v":29.6},{"year":2015,"v":35.3}]
},
"spacing": 20,
"hconcat": [
 {"title": {"text": "a", "anchor": "start", "fontSize": 22, "fontWeight": "normal", "offset": -22, "dx": 44}, "spacing": 30,
  "vconcat": [
   {"width": 491, "height": 137, "title": "Plot 2b", "resolve": {"axis": {"x": "independent", "y": "independent"}},
    "layer": [
     {"data": {"name": "b2b"}, "mark": {"type": "area", "color": "#B3B3B3"},
      "encoding": {"x": {"field": "year", "type": "quantitative", "title": "year", "scale": {"domain": [1849, 2023.8], "nice": false, "zero": false}, "axis": {"values": [1850,1900,1950,2000], "format": "d"}},
       "y": {"field": "lo", "type": "quantitative", "title": "Soil Carbon (t/ha)", "scale": {"domain": [23, 110.2], "nice": false, "zero": false}, "axis": {"values": [40,60,80,100], "format": "d"}},
       "y2": {"field": "hi"}}},
     {"data": {"name": "l2b"}, "mark": {"type": "line", "color": "black", "strokeWidth": 1.8},
      "encoding": {"x": {"field": "year", "type": "quantitative", "axis": {"orient": "top", "values": [1875,1925,1975], "labels": false, "ticks": false, "title": null, "gridWidth": 0.6, "minExtent": 0, "maxExtent": 0}},
       "y": {"field": "m", "type": "quantitative", "axis": {"orient": "right", "values": [30,50,70,90], "labels": false, "ticks": false, "title": null, "gridWidth": 0.6, "minExtent": 0, "maxExtent": 0}}}},
     {"data": {"name": "l2b"}, "mark": {"type": "line", "color": "black", "strokeWidth": 2.2, "strokeDash": [2, 5]}, "encoding": {"x": {"field": "year", "type": "quantitative", "axis": null}, "y": {"field": "d", "type": "quantitative", "axis": null}}},
     {"data": {"name": "o2b"}, "mark": {"type": "circle", "color": "black", "opacity": 1, "size": 120}, "encoding": {"x": {"field": "year", "type": "quantitative", "axis": null}, "y": {"field": "v", "type": "quantitative", "axis": null}}}
    ]},
   {"width": 485, "height": 137, "title": "Plot 3", "resolve": {"axis": {"x": "independent", "y": "independent"}},
    "layer": [
     {"data": {"name": "b3"}, "mark": {"type": "area", "color": "#B3B3B3"},
      "encoding": {"x": {"field": "year", "type": "quantitative", "title": "year", "scale": {"domain": [1849, 2023.8], "nice": false, "zero": false}, "axis": {"values": [1850,1900,1950,2000], "format": "d"}},
       "y": {"field": "lo", "type": "quantitative", "title": "Soil Carbon (t/ha)", "scale": {"domain": [19.9, 31.2], "nice": false, "zero": false}, "axis": {"values": [20,22.5,25,27.5,30], "format": ".1f"}},
       "y2": {"field": "hi"}}},
     {"data": {"name": "l3"}, "mark": {"type": "line", "color": "black", "strokeWidth": 1.8},
      "encoding": {"x": {"field": "year", "type": "quantitative", "axis": {"orient": "top", "values": [1875,1925,1975], "labels": false, "ticks": false, "title": null, "gridWidth": 0.6, "minExtent": 0, "maxExtent": 0}},
       "y": {"field": "m", "type": "quantitative", "axis": {"orient": "right", "values": [21.25,23.75,26.25,28.75], "labels": false, "ticks": false, "title": null, "gridWidth": 0.6, "minExtent": 0, "maxExtent": 0}}}},
     {"data": {"name": "l3"}, "mark": {"type": "line", "color": "black", "strokeWidth": 2.2, "strokeDash": [2, 5]}, "encoding": {"x": {"field": "year", "type": "quantitative", "axis": null}, "y": {"field": "d", "type": "quantitative", "axis": null}}},
     {"data": {"name": "o3"}, "mark": {"type": "circle", "color": "black", "opacity": 1, "size": 120}, "encoding": {"x": {"field": "year", "type": "quantitative", "axis": null}, "y": {"field": "v", "type": "quantitative", "axis": null}}}
    ]},
   {"width": 502, "height": 137, "title": "Plot 5", "resolve": {"axis": {"x": "independent", "y": "independent"}},
    "layer": [
     {"data": {"name": "b5"}, "mark": {"type": "area", "color": "#B3B3B3"},
      "encoding": {"x": {"field": "year", "type": "quantitative", "title": "year", "scale": {"domain": [1849, 2023.8], "nice": false, "zero": false}, "axis": {"values": [1850,1900,1950,2000], "format": "d"}},
       "y": {"field": "lo", "type": "quantitative", "title": "Soil Carbon (t/ha)", "scale": {"domain": [21.7, 33.4], "nice": false, "zero": false}, "axis": {"values": [24,27,30,33], "format": "d"}},
       "y2": {"field": "hi"}}},
     {"data": {"name": "l5"}, "mark": {"type": "line", "color": "black", "strokeWidth": 1.8},
      "encoding": {"x": {"field": "year", "type": "quantitative", "axis": {"orient": "top", "values": [1875,1925,1975], "labels": false, "ticks": false, "title": null, "gridWidth": 0.6, "minExtent": 0, "maxExtent": 0}},
       "y": {"field": "m", "type": "quantitative", "axis": {"orient": "right", "values": [22.5,25.5,28.5,31.5], "labels": false, "ticks": false, "title": null, "gridWidth": 0.6, "minExtent": 0, "maxExtent": 0}}}},
     {"data": {"name": "l5"}, "mark": {"type": "line", "color": "black", "strokeWidth": 2.2, "strokeDash": [2, 5]}, "encoding": {"x": {"field": "year", "type": "quantitative", "axis": null}, "y": {"field": "d", "type": "quantitative", "axis": null}}},
     {"data": {"name": "o5"}, "mark": {"type": "circle", "color": "black", "opacity": 1, "size": 120}, "encoding": {"x": {"field": "year", "type": "quantitative", "axis": null}, "y": {"field": "v", "type": "quantitative", "axis": null}}}
    ]}
  ]},
 {"title": {"text": "b", "anchor": "start", "fontSize": 22, "fontWeight": "normal", "offset": -22, "dx": 32}, "spacing": 30,
  "vconcat": [
   {"width": 491, "height": 137, "title": "Plot 7", "resolve": {"axis": {"x": "independent", "y": "independent"}},
    "layer": [
     {"data": {"name": "b7"}, "mark": {"type": "area", "color": "#B3B3B3"},
      "encoding": {"x": {"field": "year", "type": "quantitative", "title": "year", "scale": {"domain": [1849, 2023.8], "nice": false, "zero": false}, "axis": {"values": [1850,1900,1950,2000], "format": "d"}},
       "y": {"field": "lo", "type": "quantitative", "title": "Soil Carbon (t/ha)", "scale": {"domain": [17.3, 34.2], "nice": false, "zero": false}, "axis": {"values": [20,25,30], "format": "d"}},
       "y2": {"field": "hi"}}},
     {"data": {"name": "l7"}, "mark": {"type": "line", "color": "black", "strokeWidth": 1.8},
      "encoding": {"x": {"field": "year", "type": "quantitative", "axis": {"orient": "top", "values": [1875,1925,1975], "labels": false, "ticks": false, "title": null, "gridWidth": 0.6, "minExtent": 0, "maxExtent": 0}},
       "y": {"field": "m", "type": "quantitative", "axis": {"orient": "right", "values": [22.5,27.5,32.5], "labels": false, "ticks": false, "title": null, "gridWidth": 0.6, "minExtent": 0, "maxExtent": 0}}}},
     {"data": {"name": "l7"}, "mark": {"type": "line", "color": "black", "strokeWidth": 2.2, "strokeDash": [2, 5]}, "encoding": {"x": {"field": "year", "type": "quantitative", "axis": null}, "y": {"field": "d", "type": "quantitative", "axis": null}}},
     {"data": {"name": "o7"}, "mark": {"type": "circle", "color": "black", "opacity": 1, "size": 120}, "encoding": {"x": {"field": "year", "type": "quantitative", "axis": null}, "y": {"field": "v", "type": "quantitative", "axis": null}}}
    ]},
   {"width": 491, "height": 137, "title": "Plot 10", "resolve": {"axis": {"x": "independent", "y": "independent"}},
    "layer": [
     {"data": {"name": "b10"}, "mark": {"type": "area", "color": "#B3B3B3"},
      "encoding": {"x": {"field": "year", "type": "quantitative", "title": "year", "scale": {"domain": [1849, 2023.8], "nice": false, "zero": false}, "axis": {"values": [1850,1900,1950,2000], "format": "d"}},
       "y": {"field": "lo", "type": "quantitative", "title": "Soil Carbon (t/ha)", "scale": {"domain": [19.9, 33.7], "nice": false, "zero": false}, "axis": {"values": [20,25,30], "format": "d"}},
       "y2": {"field": "hi"}}},
     {"data": {"name": "l10"}, "mark": {"type": "line", "color": "black", "strokeWidth": 1.8},
      "encoding": {"x": {"field": "year", "type": "quantitative", "axis": {"orient": "top", "values": [1875,1925,1975], "labels": false, "ticks": false, "title": null, "gridWidth": 0.6, "minExtent": 0, "maxExtent": 0}},
       "y": {"field": "m", "type": "quantitative", "axis": {"orient": "right", "values": [22.5,27.5,32.5], "labels": false, "ticks": false, "title": null, "gridWidth": 0.6, "minExtent": 0, "maxExtent": 0}}}},
     {"data": {"name": "l10"}, "mark": {"type": "line", "color": "black", "strokeWidth": 2.2, "strokeDash": [2, 5]}, "encoding": {"x": {"field": "year", "type": "quantitative", "axis": null}, "y": {"field": "d", "type": "quantitative", "axis": null}}},
     {"data": {"name": "o10"}, "mark": {"type": "circle", "color": "black", "opacity": 1, "size": 120}, "encoding": {"x": {"field": "year", "type": "quantitative", "axis": null}, "y": {"field": "v", "type": "quantitative", "axis": null}}}
    ]},
   {"width": 491, "height": 137, "title": "Plot 14", "resolve": {"axis": {"x": "independent", "y": "independent"}},
    "layer": [
     {"data": {"name": "b14"}, "mark": {"type": "area", "color": "#B3B3B3"},
      "encoding": {"x": {"field": "year", "type": "quantitative", "title": "year", "scale": {"domain": [1849, 2023.8], "nice": false, "zero": false}, "axis": {"values": [1850,1900,1950,2000], "format": "d"}},
       "y": {"field": "lo", "type": "quantitative", "title": "Soil Carbon (t/ha)", "scale": {"domain": [18.5, 36.1], "nice": false, "zero": false}, "axis": {"values": [20,25,30,35], "format": "d"}},
       "y2": {"field": "hi"}}},
     {"data": {"name": "l14"}, "mark": {"type": "line", "color": "black", "strokeWidth": 1.8},
      "encoding": {"x": {"field": "year", "type": "quantitative", "axis": {"orient": "top", "values": [1875,1925,1975], "labels": false, "ticks": false, "title": null, "gridWidth": 0.6, "minExtent": 0, "maxExtent": 0}},
       "y": {"field": "m", "type": "quantitative", "axis": {"orient": "right", "values": [22.5,27.5,32.5], "labels": false, "ticks": false, "title": null, "gridWidth": 0.6, "minExtent": 0, "maxExtent": 0}}}},
     {"data": {"name": "l14"}, "mark": {"type": "line", "color": "black", "strokeWidth": 2.2, "strokeDash": [2, 5]}, "encoding": {"x": {"field": "year", "type": "quantitative", "axis": null}, "y": {"field": "d", "type": "quantitative", "axis": null}}},
     {"data": {"name": "o14"}, "mark": {"type": "circle", "color": "black", "opacity": 1, "size": 120}, "encoding": {"x": {"field": "year", "type": "quantitative", "axis": null}, "y": {"field": "v", "type": "quantitative", "axis": null}}}
    ]}
  ]}
]
}
